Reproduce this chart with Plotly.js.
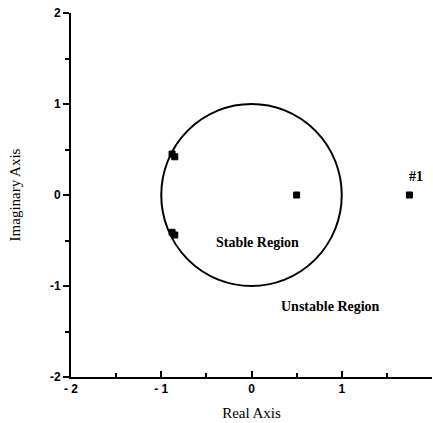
<!DOCTYPE html>
<html><head><meta charset="utf-8">
<script src="https://cdn.plot.ly/plotly-3.0.1.min.js"></script>
<style>html,body{margin:0;padding:0;background:#fff}</style>
</head><body>
<div id="chart" style="width:433px;height:423px"></div>
<script>
const realParts = [-0.88, -0.85, -0.88, -0.85, 0.5, 1.75];
const imagParts = [0.45, 0.42, -0.41, -0.44, 0, 0];
const xTicks = [-2, -1, 0, 1, 2];
const yTicks = [-2, -1, 0, 1, 2];
const tickFont = {family: 'Liberation Sans, Arial', size: 12, color: '#000', weight: 'bold'};
const serif = 'Liberation Serif, Times New Roman, serif';

const data = [{
  x: realParts, y: imagParts, mode: 'markers', type: 'scatter',
  marker: {symbol: 'square-dot', size: 6, color: '#000', line: {width: 1, color: '#000'}},
  cliponaxis: false, showlegend: false, hoverinfo: 'none'
}];

const layout = {
  width: 433, height: 423,
  margin: {l: 71, r: 1, t: 13, b: 46},
  paper_bgcolor: '#fff', plot_bgcolor: '#fff',
  xaxis: {
    range: [-2, 2], tickvals: xTicks, ticktext: ['- 2', '- 1', '0', '1', '2'],
    showgrid: false, zeroline: false, showline: true, linewidth: 2, linecolor: '#000',
    ticks: 'inside', ticklen: 6, tickwidth: 2, tickcolor: '#000', tickfont: tickFont,
    minor: {dtick: 0.5, ticks: 'inside', ticklen: 4, tickwidth: 2, tickcolor: '#000', showgrid: false},
    title: {text: 'Real Axis', font: {family: serif, size: 15, color: '#000'}, standoff: 12}
  },
  yaxis: {
    range: [-2, 2], tickvals: yTicks, ticktext: ['-2', '-1', '0', '1', '2'],
    showgrid: false, zeroline: false, showline: true, linewidth: 2, linecolor: '#000',
    ticks: 'outside', ticklen: 6, tickwidth: 2, tickcolor: '#000', tickfont: tickFont,
    minor: {dtick: 0.5, ticks: 'outside', ticklen: 4, tickwidth: 2, tickcolor: '#000', showgrid: false},
    title: {text: 'Imaginary Axis', font: {family: serif, size: 15, color: '#000'}, standoff: 26}
  },
  shapes: [{type: 'circle', xref: 'x', yref: 'y', x0: -1, x1: 1, y0: -1, y1: 1,
            line: {color: '#000', width: 2}}],
  annotations: [
    {x: 1.82, y: 0.2, text: '#1', showarrow: false, font: {family: serif, size: 14, color: '#000', weight: 'bold'}},
    {x: 0.07, y: -0.52, text: 'Stable Region', showarrow: false, font: {family: serif, size: 14, color: '#000', weight: 'bold'}},
    {x: 0.87, y: -1.23, text: 'Unstable Region', showarrow: false, font: {family: serif, size: 14, color: '#000', weight: 'bold'}}
  ]
};
Plotly.newPlot('chart', data, layout, {staticPlot: true, displayModeBar: false});
</script>
</body></html>
